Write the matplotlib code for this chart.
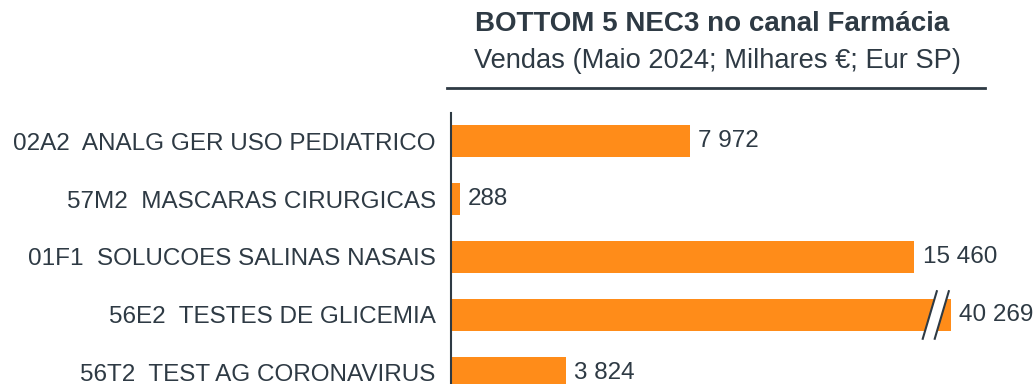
import matplotlib
matplotlib.use("Agg")
import matplotlib.pyplot as plt
from matplotlib.lines import Line2D
from matplotlib.patches import Polygon

plt.rcParams["font.family"] = ["Liberation Sans", "DejaVu Sans"]

# ==========================================
# Data
# ==========================================
categories = [
    "02A2  ANALG GER USO PEDIATRICO",
    "57M2  MASCARAS CIRURGICAS",
    "01F1  SOLUCOES SALINAS NASAIS",
    "56E2  TESTES DE GLICEMIA",
    "56T2  TEST AG CORONAVIRUS",
]
sales = [7972, 288, 15460, 40269, 3824]
value_labels = ["7 972", "288", "15 460", "40 269", "3 824"]

# bars above this length are drawn cut with a break mark
break_at = 16670

ORANGE = "#FF8C19"
DARK = "#2E3A44"

# ==========================================
# Figure
# ==========================================
W, H = 1035, 384
fig = plt.figure(figsize=(W / 100, H / 100), dpi=100)
ax = fig.add_axes([451 / W, 0, (W - 451) / W, (384 - 113) / H])

shown = [min(v, break_at) for v in sales]
ypos = list(range(len(categories)))
ax.barh(ypos, shown, height=0.55, color=ORANGE, zorder=2)

ax.set_xlim(0, (W - 451) / 0.02998)
ax.set_ylim(4.19, -0.483)
ax.set_yticks(ypos)
ax.set_yticklabels(categories, fontsize=17.5, color=DARK)
ax.tick_params(axis="y", length=0, pad=11)
ax.set_xticks([])
for s in ["top", "right", "bottom"]:
    ax.spines[s].set_visible(False)
ax.spines["left"].set_color(DARK)
ax.spines["left"].set_linewidth(1.5)

for y, v, lab in zip(ypos, shown, value_labels):
    ax.text(v + 270, y, lab, va="center", ha="left", fontsize=17.5, color=DARK)

# break mark on cut bars: white gap between two slanted strokes
for y, v in zip(ypos, sales):
    if v > break_at:
        x1, x2 = break_at - 700, break_at - 300
        sx, sy = 235, 0.41
        ax.add_patch(Polygon([(x1 - sx, y + sy), (x1 + sx, y - sy),
                              (x2 + sx, y - sy), (x2 - sx, y + sy)],
                             closed=True, facecolor="white", edgecolor="none",
                             zorder=3))
        for xc in (x1, x2):
            ax.add_line(Line2D([xc - sx, xc + sx], [y + sy, y - sy],
                               color=DARK, linewidth=1.5, zorder=4))

# ==========================================
# Title
# ==========================================
fig.text(712 / W, 1 - 24 / H, "BOTTOM 5 NEC3 no canal Farmácia",
         ha="center", va="center", fontsize=20, fontweight="bold", color=DARK)
fig.text(718 / W, 1 - 61 / H, "Vendas (Maio 2024; Milhares €; Eur SP)",
         ha="center", va="center", fontsize=19.6, color=DARK)
fig.add_artist(Line2D([447 / W, 985 / W], [1 - 88 / H, 1 - 88 / H],
                      color=DARK, linewidth=2))

plt.savefig("out.png", dpi=100)
plt.close()
